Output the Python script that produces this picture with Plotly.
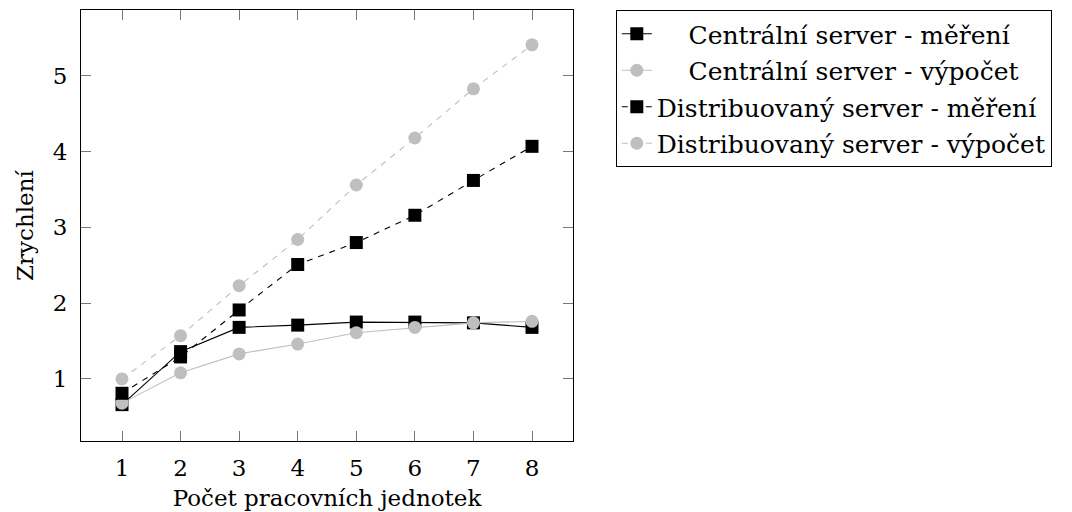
import plotly.graph_objects as go

x_units = [1, 2, 3, 4, 5, 6, 7, 8]
central_mereni = [0.66, 1.36, 1.68, 1.71, 1.75, 1.75, 1.74, 1.68]
central_vypocet = [0.68, 1.08, 1.33, 1.46, 1.61, 1.68, 1.74, 1.76]
distrib_mereni = [0.81, 1.29, 1.91, 2.51, 2.80, 3.16, 3.62, 4.07]
distrib_vypocet = [1.00, 1.57, 2.23, 2.84, 3.56, 4.18, 4.83, 5.41]

x_ticks = [1, 2, 3, 4, 5, 6, 7, 8]
y_ticks = [1, 2, 3, 4, 5]

names = [
    "Centrální server - měření",
    "Centrální server - výpočet",
    "Distribuovaný server - měření",
    "Distribuovaný server - výpočet",
]
# legend text is centred in the reference; pad the shorter entries
pad = ["\u00a0" * 4, "\u00a0" * 4, "", ""]

FONT = "DejaVu Serif"
FS = 23
LFS = 25
GRAY = "#bfbfbf"

series = [central_mereni, central_vypocet, distrib_mereni, distrib_vypocet]
colors = ["black", GRAY, "black", GRAY]
symbols = ["square", "circle", "square", "circle"]
dashes = ["solid", "solid", "6px,6px", "6px,6px"]

fig = go.Figure()
for i, ys in enumerate(series):
    fig.add_trace(go.Scatter(
        x=x_units, y=ys, name=pad[i] + names[i], mode="lines+markers",
        legendgroup=f"g{i}",
        line=dict(color=colors[i], width=1.1, dash=dashes[i]),
        marker=dict(symbol=symbols[i], size=13, color=colors[i])))

axis_common = dict(
    showline=True, linecolor="black", linewidth=1, mirror="ticks",
    ticks="inside", ticklen=10, tickcolor="#777", tickwidth=1,
    showgrid=False, zeroline=False, automargin=False,
    tickfont=dict(family=FONT, size=FS, color="black"),
)

fig.update_layout(
    width=1072, height=512,
    margin=dict(l=81, r=499, t=10, b=71),
    paper_bgcolor="white", plot_bgcolor="white",
    font=dict(family=FONT, size=FS, color="black"),
    xaxis=dict(range=[0.3, 8.7], tickvals=x_ticks,
               title=dict(text="Počet pracovních jednotek", standoff=10,
                          font=dict(family=FONT, size=FS)),
               ticklabelstandoff=6, **axis_common),
    yaxis=dict(range=[0.18, 5.87], tickvals=y_ticks,
               title=dict(text="Zrychlení", standoff=12,
                          font=dict(family=FONT, size=FS)),
               ticklabelstandoff=8, **axis_common),
    legend=dict(x=1.087, y=1.0, xanchor="left", yanchor="top",
                bordercolor="black", borderwidth=1,
                font=dict(family=FONT, size=LFS),
                tracegroupgap=1),
    showlegend=True,
)

fig.write_html("out.html", config={"displayModeBar": False},
               post_script="document.body.style.margin='0';document.body.style.padding='0';")
